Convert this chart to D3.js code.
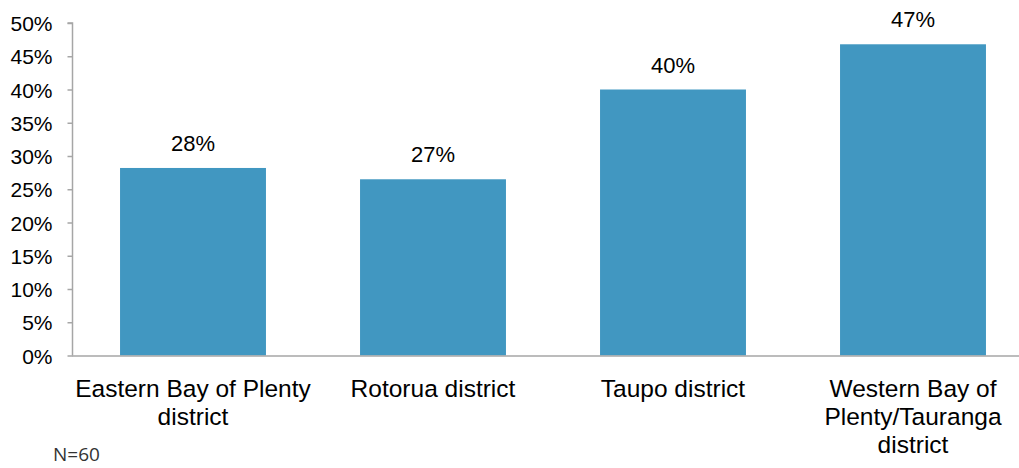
<!DOCTYPE html>
<html>
<head>
<meta charset="utf-8">
<script src="https://cdn.jsdelivr.net/npm/d3@7"></script>
<style>
  html, body { margin: 0; padding: 0; background: #fff; }
  svg { display: block; }
</style>
</head>
<body>
<svg id="chart" width="1019" height="468"></svg>
<script>
// Share of respondents by district
const categories = [
  ["Eastern Bay of Plenty", "district"],
  ["Rotorua district"],
  ["Taupo district"],
  ["Western Bay of", "Plenty/Tauranga", "district"]
];
const values = [28.2, 26.5, 40.0, 46.8];
const valueLabels = ["28%", "27%", "40%", "47%"];
const yTicks = [0, 5, 10, 15, 20, 25, 30, 35, 40, 45, 50];
const note = "N=60";

const svg = d3.select("#chart");
const font = "'Liberation Sans', Arial, sans-serif";

const x = d3.scaleBand()
  .domain(d3.range(categories.length))
  .range([73, 1033])
  .paddingInner(0.392)
  .paddingOuter(0.196);

const y = d3.scaleLinear().domain([0, 50]).range([355.5, 23]);

// y axis
const yAxis = svg.append("g")
  .attr("transform", "translate(72.5,0)")
  .call(d3.axisLeft(y).tickValues(yTicks).tickSize(5).tickPadding(15)
    .tickFormat(d => d + "%"));
yAxis.select(".domain").attr("stroke", "#a6a6a6").attr("stroke-width", 1.5)
  .attr("d", `M-5,${y(50)}H0V${y(0)}`);
yAxis.selectAll(".tick line").attr("stroke", "#a6a6a6").attr("stroke-width", 1.5);
yAxis.selectAll(".tick text")
  .attr("font-family", font).attr("font-size", 21).attr("fill", "#000")
  .attr("dy", "0.36em");

// bars
svg.append("g").selectAll("rect")
  .data(values)
  .join("rect")
  .attr("x", (d, i) => x(i))
  .attr("width", x.bandwidth())
  .attr("y", d => y(d))
  .attr("height", d => y(0) - y(d))
  .attr("fill", "#4197c1");

// x axis baseline
svg.append("line")
  .attr("x1", 72).attr("x2", 1019)
  .attr("y1", y(0) + 0.5).attr("y2", y(0) + 0.5)
  .attr("stroke", "#a6a6a6").attr("stroke-width", 1.5);

// value labels
svg.append("g").selectAll("text")
  .data(values)
  .join("text")
  .attr("x", (d, i) => x(i) + x.bandwidth() / 2)
  .attr("y", d => y(d) - 17)
  .attr("text-anchor", "middle")
  .attr("font-family", font).attr("font-size", 22).attr("fill", "#000")
  .text((d, i) => valueLabels[i]);

// category labels
const cat = svg.append("g").selectAll("text")
  .data(categories)
  .join("text")
  .attr("text-anchor", "middle")
  .attr("font-family", font).attr("font-size", 24.5).attr("fill", "#000")
  .attr("x", (d, i) => x(i) + x.bandwidth() / 2)
  .attr("y", 396.5);
cat.selectAll("tspan")
  .data(d => d)
  .join("tspan")
  .attr("x", function () { return d3.select(this.parentNode).attr("x"); })
  .attr("dy", (d, i) => i === 0 ? 0 : 28)
  .text(d => d);

// sample size note
svg.append("text")
  .attr("x", 53).attr("y", 461)
  .attr("font-family", "'Open Sans', sans-serif").attr("font-size", 19)
  .attr("fill", "#333")
  .text(note);
</script>
</body>
</html>
